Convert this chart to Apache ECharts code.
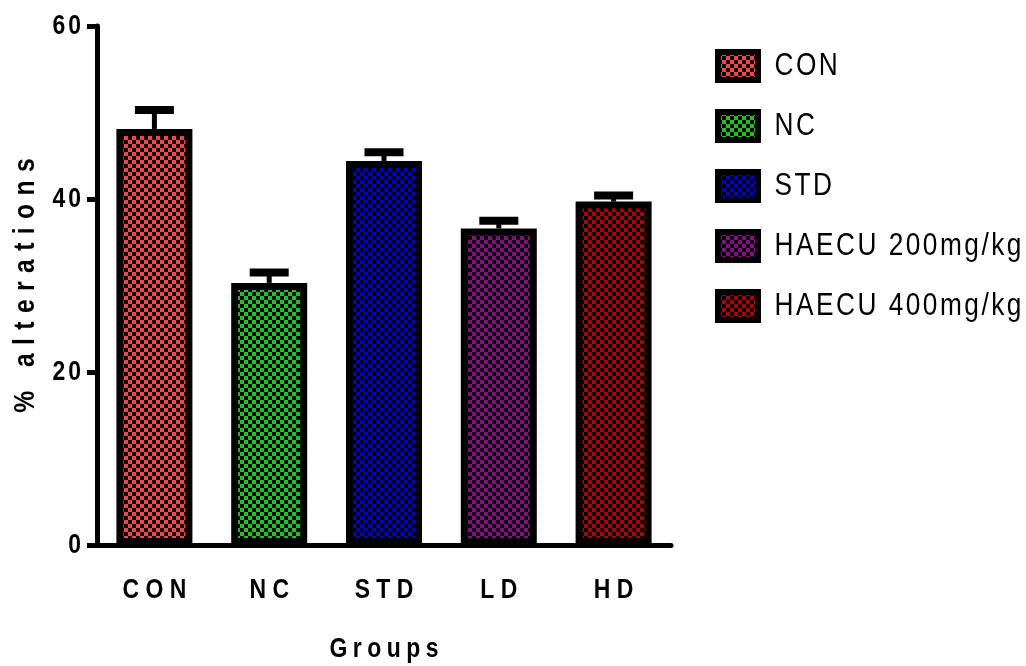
<!DOCTYPE html>
<html>
<head>
<meta charset="utf-8">
<script src="https://cdn.jsdelivr.net/npm/echarts@6/dist/echarts.min.js"></script>
<style>
  html, body { margin: 0; padding: 0; background: #fff; }
  #chart { width: 1026px; height: 666px; }
</style>
</head>
<body>
<div id="chart"></div>
<script>
// Group labels on the x axis and their legend names
const groups = ['CON', 'NC', 'STD', 'LD', 'HD'];
const legendNames = ['CON', 'NC', 'STD', 'HAECU 200mg/kg', 'HAECU 400mg/kg'];
// Mean % alterations and SEM per group
const means = [48.1, 30.3, 44.4, 36.6, 39.7];
const errors = [2.2, 1.2, 1.0, 0.9, 0.7];
// Fill colour of each group's checkered bar
const fills = ['#FF4242', '#17C817', '#0000CC', '#8B0A8B', '#B00000'];
// Y axis ticks
const yTicks = [0, 20, 40, 60];

const FONT = '"Liberation Sans", Arial, Helvetica, sans-serif';
const NARROW = 0.82; // horizontal squeeze applied to every text

// Letter-spaced rich text: characters separated by a gap token
const spaced = (s, key) => String(s).split('').join('{' + key + '| }');
const gap = (size, lh) => ({ fontSize: size, fontFamily: FONT, lineHeight: lh });

// Small 8x8 checkerboard tile: colour with black squares
function checker(color) {
  const c = document.createElement('canvas');
  c.width = 8; c.height = 8;
  const g = c.getContext('2d');
  g.fillStyle = color; g.fillRect(0, 0, 8, 8);
  g.fillStyle = '#000'; g.fillRect(0, 0, 4, 4); g.fillRect(4, 4, 4, 4);
  return { image: c, repeat: 'repeat' };
}

const chart = echarts.init(document.getElementById('chart'), null, { renderer: 'canvas' });

const barSeries = legendNames.map((name, i) => ({
  name: name,
  type: 'bar',
  stack: 'groups',
  barWidth: 76,
  data: groups.map((g, j) => (j === i ? means[i] : '-')),
  itemStyle: { color: checker(fills[i]), borderColor: '#000', borderWidth: 7 },
  z: 2
}));

const errorSeries = {
  type: 'custom',
  name: 'SEM',
  data: groups.map((g, i) => [i, means[i], errors[i]]),
  encode: { x: 0, y: 1 },
  z: 3,
  renderItem: function (params, api) {
    const idx = api.value(0);
    const m = api.value(1);
    const e = api.value(2);
    const p0 = api.coord([idx, m]);
    const p1 = api.coord([idx, m + e]);
    return {
      type: 'group',
      children: [
        { type: 'line', shape: { x1: p0[0], y1: p0[1], x2: p1[0], y2: p1[1] },
          style: { stroke: '#000', lineWidth: 5 } },
        { type: 'line', shape: { x1: p1[0] - 19.5, y1: p1[1], x2: p1[0] + 19.5, y2: p1[1] },
          style: { stroke: '#000', lineWidth: 8 } }
      ]
    };
  }
};

chart.setOption({
  animation: false,
  backgroundColor: '#fff',
  textStyle: { fontFamily: FONT },
  grid: { left: 97, top: 26, right: 355, bottom: 121, containLabel: false, outerBoundsMode: 'none' },
  legend: {
    data: legendNames,
    orient: 'vertical',
    left: 710,
    top: 44,
    itemWidth: 40,
    itemHeight: 28,
    itemGap: 26,
    selectedMode: false,
    icon: 'rect',
    itemStyle: { borderColor: '#000', borderWidth: 6 },
    formatter: name => spaced(name, 'g'),
    textStyle: {
      fontFamily: FONT, fontSize: 32, color: '#000', lineHeight: 34, padding: [0, 0, 0, 14],
      rich: { g: gap(11, 34) }
    }
  },
  xAxis: {
    type: 'category',
    data: groups,
    name: spaced('Groups', 'g'),
    nameLocation: 'middle',
    nameGap: 89,
    nameMoveOverlap: false,
    nameTextStyle: {
      fontFamily: FONT, fontSize: 28, fontWeight: 'bold', color: '#000',
      rich: { g: gap(24, 30) }
    },
    axisLine: { lineStyle: { color: '#000', width: 5 } },
    axisTick: { alignWithLabel: true, length: 13, lineStyle: { color: '#000', width: 5 } },
    axisLabel: {
      interval: 0,
      margin: 30,
      fontFamily: FONT, fontSize: 28, fontWeight: 'bold', color: '#000',
      formatter: v => spaced(v, 'g'),
      rich: { g: gap(28, 30) }
    },
    splitLine: { show: false }
  },
  yAxis: {
    type: 'value',
    min: yTicks[0],
    max: yTicks[yTicks.length - 1],
    interval: yTicks[1] - yTicks[0],
    name: spaced('% alterations', 'g'),
    nameLocation: 'middle',
    nameRotate: 90,
    nameGap: 55,
    nameMoveOverlap: false,
    nameTextStyle: {
      fontFamily: FONT, fontSize: 30, fontWeight: 'bold', color: '#000',
      rich: { g: gap(37, 32) }
    },
    axisLine: { show: true, lineStyle: { color: '#000', width: 5 } },
    axisTick: { show: true, length: 10, lineStyle: { color: '#000', width: 5 } },
    axisLabel: {
      margin: 16,
      fontFamily: FONT, fontSize: 28, fontWeight: 'bold', color: '#000',
      formatter: v => spaced(v, 'g'),
      rich: { g: gap(13, 30) }
    },
    splitLine: { show: false }
  },
  series: barSeries.concat([errorSeries])
});

// Squeeze every text element horizontally around its own anchor point
function narrowTexts() {
  const zr = chart.getZr();
  const visit = el => {
    if (!el) return;
    if (el.type === 'text') {
      el.originX = (el.style && el.style.x) || 0;
      el.originY = (el.style && el.style.y) || 0;
      el.scaleX = NARROW;
      el.markRedraw();
    }
    if (el.isGroup && el.childrenRef) el.childrenRef().forEach(visit);
    if (el.getTextContent) visit(el.getTextContent());
  };
  zr.storage.getRoots().forEach(visit);
  zr.refresh();
}
narrowTexts();
chart.on('finished', narrowTexts);
</script>
</body>
</html>
